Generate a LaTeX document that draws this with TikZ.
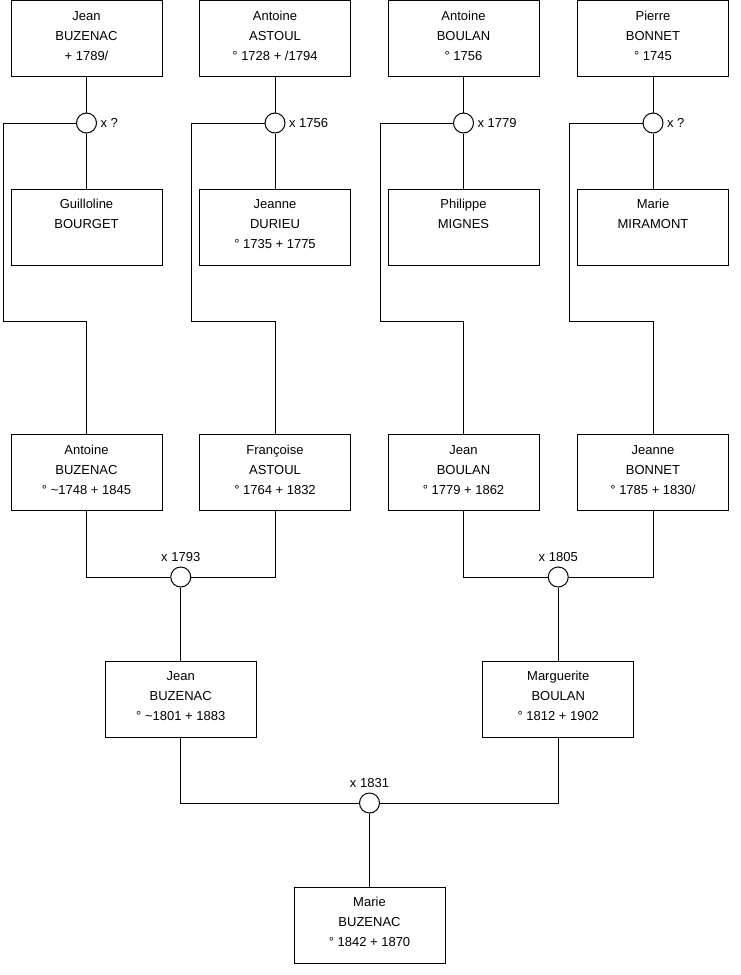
\documentclass[tikz,border=0pt]{standalone}
\usepackage{fontspec}
\setmainfont{Liberation Sans}
\usetikzlibrary{positioning}

\begin{document}
\begin{tikzpicture}[
  x=1pt, y=-1pt, line width=1pt,
  pers/.style={draw, rectangle, minimum width=151pt, minimum height=76pt, inner sep=0pt,
               align=center, text height=54pt, text depth=11pt,
               font=\fontsize{13}{20}\selectfont},
  wed/.style={draw, circle, minimum size=20pt, inner sep=0pt},
  lbl/.style={inner sep=1pt, font=\fontsize{13}{16}\selectfont}
]
  \useasboundingbox (0,0) rectangle (740,975);

  % arriere-grands-parents
  \node[pers] (jeanbu) at (86.5,38.5)  {Jean\\BUZENAC\\+ 1789/};
  \node[pers] (antas)  at (275,38.5)   {Antoine\\ASTOUL\\° 1728 + /1794};
  \node[pers] (antbl)  at (463.5,38.5) {Antoine\\BOULAN\\° 1756};
  \node[pers] (pierbo) at (653,38.5)   {Pierre\\BONNET\\° 1745};

  \node[pers] (guibo)  at (86.5,227)   {Guilloline\\BOURGET\\\strut};
  \node[pers] (jeandu) at (275,227)    {Jeanne\\DURIEU\\° 1735 + 1775};
  \node[pers] (philmi) at (463.5,227)  {Philippe\\MIGNES\\\strut};
  \node[pers] (marmi)  at (653,227)    {Marie\\MIRAMONT\\\strut};

  \node[wed] (w1) at (86.5,123)  {};
  \node[wed] (w2) at (275,123)   {};
  \node[wed] (w3) at (463.5,123) {};
  \node[wed] (w4) at (653,123)   {};
  \node[lbl, right=2pt of w1] (x1) {x ?};
  \node[lbl, right=2pt of w2] (x2) {x 1756};
  \node[lbl, right=2pt of w3] (x3) {x 1779};
  \node[lbl, right=2pt of w4] (x4) {x ?};

  % grands-parents
  \node[pers] (antbu)  at (86.5,472.5)  {Antoine\\BUZENAC\\° \textasciitilde1748 + 1845};
  \node[pers] (franas) at (275,472.5)   {Françoise\\ASTOUL\\° 1764 + 1832};
  \node[pers] (jeanbl) at (463.5,472.5) {Jean\\BOULAN\\° 1779 + 1862};
  \node[pers] (jnebo)  at (653,472.5)   {Jeanne\\BONNET\\° 1785 + 1830/};

  \node[wed] (w5) at (180.75,577) {};
  \node[wed] (w6) at (558.25,577) {};
  \node[lbl, above=3pt of w5] (x5) {x 1793};
  \node[lbl, above=3pt of w6] (x6) {x 1805};

  % parents
  \node[pers] (jeanbu2) at (180.75,699) {Jean\\BUZENAC\\° \textasciitilde1801 + 1883};
  \node[pers] (margbl)  at (558.25,699) {Marguerite\\BOULAN\\° 1812 + 1902};

  \node[wed] (w7) at (369.5,803) {};
  \node[lbl, above=3pt of w7] (x7) {x 1831};

  \node[pers] (marbu) at (369.5,925) {Marie\\BUZENAC\\° 1842 + 1870};

  \coordinate (k1) at (3,321);
  \coordinate (k2) at (191.5,321);
  \coordinate (k3) at (380,321);
  \coordinate (k4) at (569.5,321);

  \draw (jeanbu) -- (w1);
  \draw (w1) -- (guibo);
  \draw (antas) -- (w2);
  \draw (w2) -- (jeandu);
  \draw (antbl) -- (w3);
  \draw (w3) -- (philmi);
  \draw (pierbo) -- (w4);
  \draw (w4) -- (marmi);

  \draw (w1) -| (k1) -| (antbu);
  \draw (w2) -| (k2) -| (franas);
  \draw (w3) -| (k3) -| (jeanbl);
  \draw (w4) -| (k4) -| (jnebo);

  \draw (antbu) |- (w5);
  \draw (franas) |- (w5);
  \draw (jeanbl) |- (w6);
  \draw (jnebo) |- (w6);
  \draw (w5) -- (jeanbu2);
  \draw (w6) -- (margbl);

  \draw (jeanbu2) |- (w7);
  \draw (margbl) |- (w7);
  \draw (w7) -- (marbu);
\end{tikzpicture}
\end{document}
